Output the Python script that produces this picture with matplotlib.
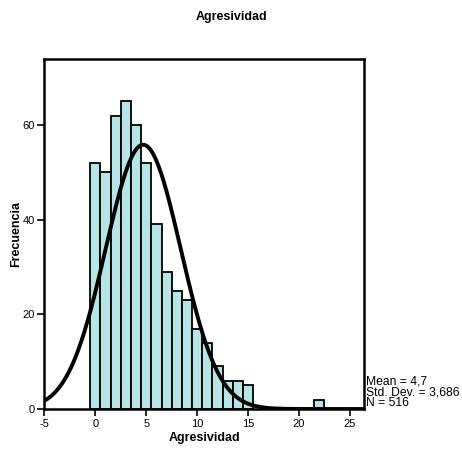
import numpy as np
import matplotlib.pyplot as plt

plt.rcParams['font.family'] = ['Liberation Sans', 'DejaVu Sans']
plt.rcParams['axes.unicode_minus'] = False

# histogram counts (bins of width 1 centred on integers)
values = [0, 1, 2, 3, 4, 5, 6, 7, 8, 9, 10, 11, 12, 13, 14, 15, 22]
counts = [52, 50, 62, 65, 60, 52, 39, 29, 25, 23, 17, 14, 9, 6, 6, 5, 2]
mean = 4.7
std = 3.686
n = 516
xticks = [-5, 0, 5, 10, 15, 20, 25]
yticks = [0, 20, 40, 60]

fig = plt.figure(figsize=(4.62, 4.5), dpi=100)
ax = fig.add_axes([0.0963, 0.0911, 0.6916, 0.778])

ax.bar(values, counts, width=1.0, color='#b7e5e6', edgecolor='black', linewidth=1.3)

xs = np.linspace(-5, 26.4, 400)
ys = n * 1.0 / (std * np.sqrt(2 * np.pi)) * np.exp(-0.5 * ((xs - mean) / std) ** 2)
ax.plot(xs, ys, color='black', linewidth=2.8, solid_capstyle='butt')

ax.set_xlim(-5, 26.4)
ax.set_ylim(0, 74)
ax.set_xticks(xticks)
ax.set_yticks(yticks)
ax.tick_params(direction='out', length=5, width=1.2, labelsize=8, pad=2)
for s in ax.spines.values():
    s.set_linewidth(1.8)

ax.set_xlabel('Agresividad', fontsize=9, fontweight='bold', labelpad=2)
ax.set_ylabel('Frecuencia', fontsize=9, fontweight='bold', labelpad=0)
fig.text(0.5, 0.963, 'Agresividad', ha='center', va='center', fontsize=9, fontweight='bold')

ax.text(1.005, 0.0, 'Mean = 4,7\nStd. Dev. = 3,686\nN = 516', transform=ax.transAxes,
        ha='left', va='bottom', fontsize=8.7, linespacing=0.85)

fig.savefig('out.png', dpi=100)
